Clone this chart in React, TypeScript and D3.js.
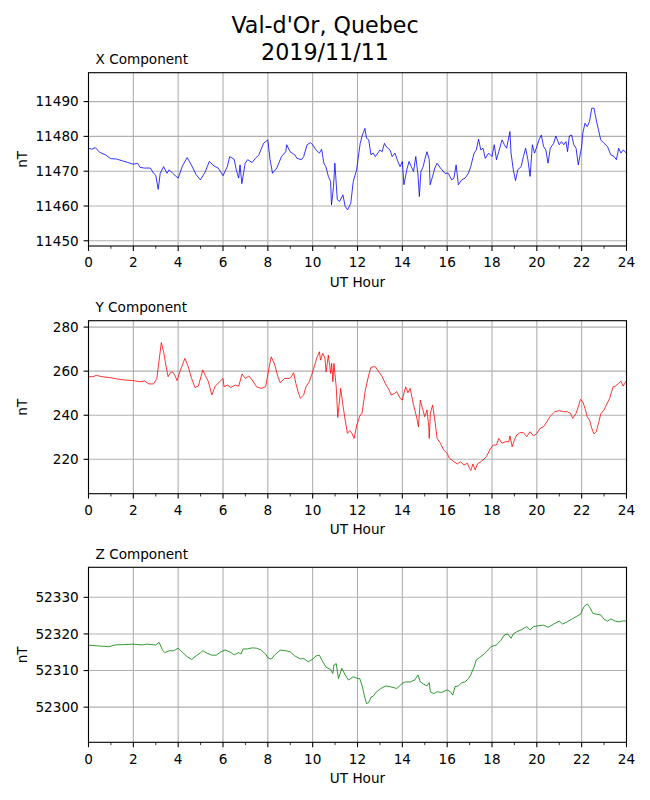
import React from "react";
import * as d3 from "d3";

const xHours = [0,0.15,0.3,0.5,0.76,0.99,1.24,1.5,1.75,2,2.19,2.3,2.5,2.76,2.9,3,3.11,3.2,3.35,3.5,3.6,3.75,4,4.19,4.4,4.59,4.8,4.99,5.2,5.39,5.6,5.79,6,6.19,6.3,6.5,6.59,6.7,6.76,6.84,6.99,7.1,7.3,7.45,7.6,7.81,8,8.1,8.21,8.4,8.61,8.8,8.84,8.99,9.2,9.3,9.5,9.6,9.75,9.9,10,10.15,10.3,10.4,10.5,10.59,10.7,10.8,10.84,10.93,10.99,11.1,11.2,11.35,11.45,11.56,11.7,11.81,11.96,12.12,12.22,12.33,12.4,12.5,12.6,12.7,12.8,13,13.1,13.2,13.3,13.45,13.55,13.67,13.8,13.9,14,14.07,14.2,14.3,14.4,14.5,14.6,14.7,14.76,14.83,14.93,15,15.1,15.2,15.24,15.35,15.45,15.55,15.7,15.9,16.05,16.2,16.3,16.4,16.5,16.65,16.8,16.95,17.05,17.2,17.3,17.4,17.5,17.6,17.7,17.85,18,18.1,18.2,18.3,18.45,18.55,18.65,18.8,18.85,18.95,19.05,19.15,19.3,19.4,19.5,19.6,19.7,19.8,19.9,20,20.1,20.2,20.3,20.4,20.5,20.6,20.75,20.85,21,21.1,21.2,21.3,21.37,21.45,21.55,21.65,21.75,21.85,22,22.05,22.15,22.25,22.35,22.45,22.55,22.65,22.75,22.85,23,23.15,23.3,23.45,23.55,23.65,23.75,23.85,24];
const xValues = [11476.6,11476.3,11476.8,11475.4,11474.7,11473.6,11473.5,11473.0,11472.5,11472.0,11472.3,11471.1,11470.9,11470.9,11469.4,11468.8,11464.8,11469.4,11471.3,11469.4,11470.4,11469.4,11468.0,11471.5,11473.9,11471.8,11469.0,11467.5,11469.7,11472.8,11471.5,11470.9,11468.7,11471.3,11474.2,11473.4,11470.4,11468.0,11471.8,11466.4,11472.3,11473.3,11472.5,11473.7,11474.7,11478.0,11479.0,11473.3,11469.4,11470.9,11474.2,11475.6,11477.6,11475.6,11474.7,11473.7,11473.3,11474.2,11477.6,11478.2,11477.6,11476.1,11475.2,11476.3,11472.3,11471.3,11468.5,11467.0,11460.3,11465.6,11472.3,11461.8,11461.3,11463.2,11459.9,11458.9,11460.8,11467.0,11470.4,11478.0,11480.4,11482.3,11479.5,11479.0,11474.7,11475.2,11474.2,11476.1,11475.6,11478.0,11476.9,11476.1,11474.2,11475.2,11472.8,11471.3,11472.8,11466.1,11470.4,11472.8,11471.3,11469.9,11474.2,11468.9,11462.7,11469.9,11471.3,11473.3,11475.6,11473.3,11466.1,11468.5,11470.9,11472.3,11470.9,11469.4,11469.4,11467.5,11468.0,11471.8,11466.1,11467.5,11468.0,11469.4,11471.3,11475.2,11476.1,11479.2,11476.1,11476.6,11473.7,11475.2,11474.2,11477.6,11473.3,11475.6,11479.0,11477.6,11476.6,11481.4,11475.2,11470.4,11467.3,11470.4,11471.3,11474.2,11476.6,11473.3,11468.5,11477.6,11475.2,11477.1,11479.0,11480.4,11477.1,11476.1,11472.3,11476.6,11478.0,11480.1,11477.6,11478.5,11477.6,11478.5,11475.6,11480.1,11480.4,11477.6,11476.6,11471.8,11477.1,11480.9,11483.8,11482.8,11484.3,11488.1,11488.1,11484.7,11481.9,11479.0,11478.0,11477.1,11474.7,11474.2,11473.3,11476.6,11475.2,11476.1,11475.2];

const yHours = [0,0.2,0.35,0.6,1,1.3,1.6,2,2.3,2.5,2.7,2.9,3.05,3.15,3.25,3.35,3.45,3.55,3.65,3.75,3.85,3.95,4.1,4.3,4.45,4.6,4.75,4.9,5.1,5.2,5.35,5.5,5.65,5.85,6,6.05,6.2,6.35,6.55,6.7,6.85,7,7.15,7.3,7.5,7.7,7.9,8.05,8.15,8.3,8.45,8.55,8.75,8.95,9.05,9.15,9.25,9.35,9.45,9.6,9.7,9.85,9.95,10.05,10.2,10.3,10.35,10.45,10.55,10.6,10.7,10.8,10.85,10.9,10.95,11.05,11.12,11.25,11.35,11.45,11.55,11.65,11.75,11.85,11.97,12.1,12.2,12.35,12.5,12.6,12.7,12.8,12.95,13.1,13.25,13.4,13.5,13.65,13.75,13.9,14,14.05,14.15,14.25,14.35,14.5,14.65,14.72,14.8,14.9,15,15.1,15.18,15.2,15.25,15.35,15.45,15.55,15.7,15.85,16,16.1,16.3,16.45,16.6,16.75,16.9,17,17.05,17.15,17.25,17.35,17.5,17.6,17.75,17.9,18.05,18.2,18.3,18.45,18.6,18.75,18.8,18.9,19,19.1,19.25,19.4,19.55,19.7,19.85,20,20.15,20.3,20.45,20.6,20.8,21,21.2,21.35,21.5,21.6,21.75,21.85,21.95,22.05,22.15,22.25,22.35,22.45,22.55,22.65,22.75,22.85,23,23.1,23.25,23.4,23.5,23.65,23.75,23.85,24];
const yValues = [257.5,257.5,258.1,257.5,257.0,256.4,256.0,255.7,255.2,255.5,254.2,254.2,256.7,265.0,273.0,268.8,262.8,257.5,259.3,259.7,258.2,255.7,260.5,265.8,262.0,256.7,252.6,253.2,260.5,258.2,255.2,249.2,253.2,255.2,256.7,252.9,253.7,252.6,253.7,253.2,258.7,256.7,257.8,256.0,252.9,252.2,252.9,261.3,266.5,263.2,257.5,254.8,256.7,256.7,257.5,259.3,254.5,250.7,247.7,249.2,252.9,255.2,258.2,261.3,266.5,268.8,265.0,268.1,265.8,259.7,267.3,259.0,263.5,255.2,263.5,252.9,239.0,252.2,244.6,237.8,231.8,233.0,231.8,229.5,235.6,239.6,240.9,251.4,258.2,261.7,262.0,262.0,259.7,257.5,254.2,251.7,249.2,249.9,250.7,247.7,246.9,249.2,252.9,250.2,252.2,244.6,238.6,234.8,246.9,243.1,239.3,242.4,234.8,229.5,240.9,244.6,237.8,229.5,227.3,224.2,222.7,220.5,218.9,217.9,218.9,217.4,218.2,215.9,214.9,217.9,215.2,217.9,218.9,219.7,221.2,224.2,226.5,226.5,229.5,227.3,228.0,228.0,230.6,225.7,228.8,231.0,232.1,232.1,230.3,232.5,230.6,231.8,234.1,234.8,237.1,239.6,241.6,242.1,241.6,241.6,240.9,238.6,240.9,243.9,247.2,246.1,243.1,239.3,237.8,234.1,231.5,232.5,236.3,240.6,242.4,244.6,247.7,252.9,253.2,254.5,255.5,253.2,255.7];

const zHours = [0,0.5,0.9,1.2,1.6,2,2.4,2.6,3,3.15,3.3,3.4,3.6,3.8,4,4.2,4.4,4.6,4.8,5,5.1,5.3,5.5,5.7,5.9,6.1,6.3,6.5,6.7,6.8,6.9,7.1,7.3,7.5,7.7,7.9,8,8.15,8.3,8.55,8.8,9,9.2,9.45,9.6,9.8,10,10.15,10.3,10.45,10.6,10.8,10.9,10.95,11.05,11.15,11.3,11.45,11.6,11.8,11.9,12,12.1,12.2,12.3,12.4,12.5,12.6,12.7,12.85,13.05,13.25,13.45,13.75,14,14.15,14.35,14.55,14.7,14.8,14.95,15.1,15.2,15.25,15.4,15.55,15.75,16,16.15,16.25,16.35,16.5,16.65,16.8,16.95,17.05,17.2,17.3,17.45,17.65,17.85,17.95,18.2,18.4,18.55,18.7,18.85,18.95,19.1,19.3,19.55,19.7,19.85,20.05,20.3,20.5,20.75,21,21.15,21.35,21.55,21.8,21.95,22.1,22.25,22.35,22.5,22.65,22.85,23,23.15,23.3,23.5,23.7,23.85,24];
const zValues = [52316.9,52316.7,52316.5,52317.0,52317.1,52317.2,52317.0,52317.2,52317.0,52317.7,52315.6,52314.9,52315.4,52315.4,52316.1,52314.9,52313.8,52313.0,52314.0,52314.9,52315.4,52314.7,52314.2,52314.2,52315.1,52315.6,52315.1,52314.3,52314.9,52314.5,52315.9,52315.9,52316.2,52316.1,52315.6,52314.5,52313.5,52313.1,52314.2,52315.6,52315.4,52315.1,52314.0,52313.2,52313.3,52312.4,52313.1,52314.0,52314.2,52312.4,52310.9,52310.3,52309.2,52311.5,52311.9,52307.8,52310.6,52308.8,52307.4,52308.3,52308.1,52307.8,52307.8,52306.0,52303.3,52301.0,52301.2,52302.7,52303.0,52304.2,52305.1,52305.8,52305.6,52305.1,52306.5,52306.9,52306.9,52307.4,52308.8,52306.9,52306.3,52305.8,52306.7,52304.2,52303.7,52304.2,52304.0,52304.7,52304.2,52303.3,52305.6,52305.8,52306.7,52306.9,52307.8,52308.8,52311.0,52312.9,52313.6,52314.5,52315.8,52316.5,52317.0,52318.3,52319.7,52320.0,52318.8,52320.0,52320.6,52321.1,52322.0,52321.1,52322.0,52322.2,52322.4,52321.8,52322.7,52323.5,52322.7,52323.3,52324.0,52324.9,52325.4,52327.4,52328.2,52327.4,52325.6,52325.4,52325.2,52324.0,52323.5,52324.1,52323.5,52323.3,52323.6,52323.5];

const hourTicks = [0, 2, 4, 6, 8, 10, 12, 14, 16, 18, 20, 22, 24];
const xTicksNT = [11450, 11460, 11470, 11480, 11490];
const yTicksNT = [220, 240, 260, 280];
const zTicksNT = [52300, 52310, 52320, 52330];

const titleLines = ["Val-d'Or, Quebec", "2019/11/11"];

const FONT = "DejaVu Sans, sans-serif";
const LEFT = 88.5;
const RIGHT = 626.5;

type PanelProps = {
  title: string;
  hours: number[];
  values: number[];
  domain: [number, number];
  ticks: number[];
  top: number;
  bottom: number;
  color: string;
};

function Panel({ title, hours, values, domain, ticks, top, bottom, color }: PanelProps) {
  const x = d3.scaleLinear().domain([0, 24]).range([LEFT, RIGHT]);
  const y = d3.scaleLinear().domain(domain).range([bottom, top]);
  const line = d3
    .line<number>()
    .x((_, i) => x(hours[i]))
    .y((v) => y(v));
  const minor = d3.range(0, 25, 1).filter((h) => h % 2 !== 0);
  const mid = (top + bottom) / 2;
  return (
    <g>
      {/* grid */}
      {hourTicks.map((h) => (
        <line key={"gx" + h} x1={x(h)} x2={x(h)} y1={top} y2={bottom} stroke="#b0b0b0" strokeWidth={1.1} />
      ))}
      {ticks.map((t) => (
        <line key={"gy" + t} x1={LEFT} x2={RIGHT} y1={y(t)} y2={y(t)} stroke="#b0b0b0" strokeWidth={1.1} />
      ))}
      <defs>
        <clipPath id={"clip-" + title.replace(/\s/g, "")}>
          <rect x={LEFT} y={top} width={RIGHT - LEFT} height={bottom - top} />
        </clipPath>
      </defs>
      <path
        d={line(values) || ""}
        fill="none"
        stroke={color}
        strokeWidth={0.8}
        strokeLinejoin="round"
        clipPath={`url(#clip-${title.replace(/\s/g, "")})`}
      />
      {/* spines */}
      <rect x={LEFT} y={top} width={RIGHT - LEFT} height={bottom - top} fill="none" stroke="#000" strokeWidth={1.1} />
      {/* x ticks */}
      {hourTicks.map((h) => (
        <g key={"tx" + h}>
          <line x1={x(h)} x2={x(h)} y1={bottom} y2={bottom + 4.9} stroke="#000" strokeWidth={1.1} />
          <text x={x(h)} y={bottom + 21.3} textAnchor="middle" fontSize={13.6} fontFamily={FONT} fill="#000">
            {h}
          </text>
        </g>
      ))}
      {minor.map((h) => (
        <line key={"mx" + h} x1={x(h)} x2={x(h)} y1={bottom} y2={bottom + 2.8} stroke="#000" strokeWidth={0.8} />
      ))}
      {/* y ticks */}
      {ticks.map((t) => (
        <g key={"ty" + t}>
          <line x1={LEFT - 4.9} x2={LEFT} y1={y(t)} y2={y(t)} stroke="#000" strokeWidth={1.1} />
          <text
            x={LEFT - 9.8}
            y={y(t)}
            dy="0.36em"
            textAnchor="end"
            fontSize={13.6}
            fontFamily={FONT}
            fill="#000"
          >
            {t}
          </text>
        </g>
      ))}
      <text x={(LEFT + RIGHT) / 2} y={bottom + 40.7} textAnchor="middle" fontSize={13.6} fontFamily={FONT} fill="#000">
        UT Hour
      </text>
      <text
        transform={`translate(${26.5},${mid}) rotate(-90)`}
        textAnchor="middle"
        fontSize={13.6}
        fontFamily={FONT}
        fill="#000"
      >
        nT
      </text>
      <text x={95.5} y={top - 8.5} fontSize={13.6} fontFamily={FONT} fill="#000">
        {title}
      </text>
    </g>
  );
}

export default function App() {
  return (
    <svg
      width={650}
      height={800}
      viewBox="0 0 650 800"
      style={{ position: "absolute", left: 0, top: 0, background: "#fff" }}
    >
      <rect x={0} y={0} width={650} height={800} fill="#fff" />
      {titleLines.map((t, i) => (
        <text key={t} x={325} y={33.3 + i * 26.7} textAnchor="middle" fontSize={22.2} fontFamily={FONT} fill="#000">
          {t}
        </text>
      ))}
      <Panel title="X Component" hours={xHours} values={xValues} domain={[11448.5, 11498.3]} ticks={xTicksNT} top={72.7} bottom={246} color="#0000ff" />
      <Panel title="Y Component" hours={yHours} values={yValues} domain={[204.4, 282.9]} ticks={yTicksNT} top={320.7} bottom={493.7} color="#ff0000" />
      <Panel title="Z Component" hours={zHours} values={zValues} domain={[52290.4, 52338.2]} ticks={zTicksNT} top={567.3} bottom={742.3} color="#008000" />
    </svg>
  );
}
